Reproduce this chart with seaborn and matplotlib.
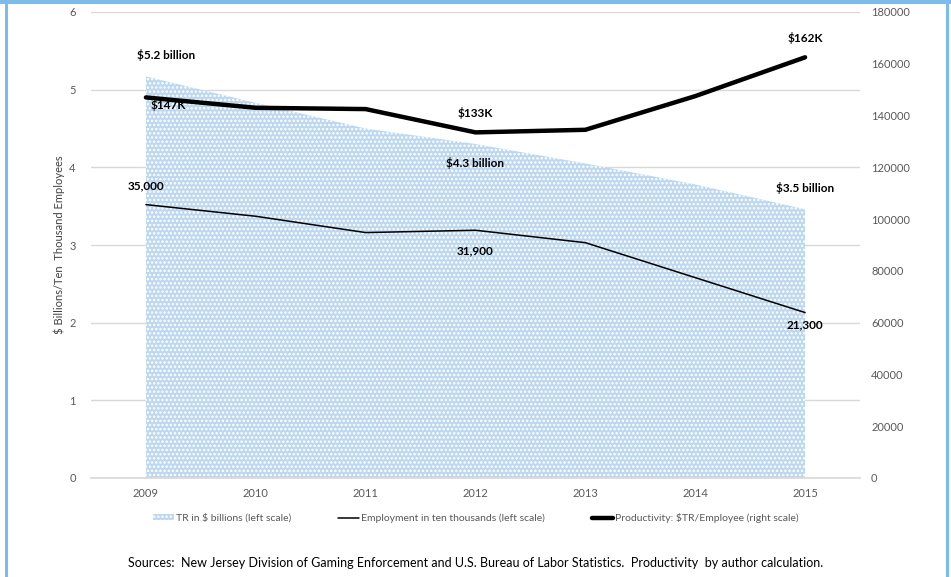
import matplotlib
matplotlib.use("Agg")
import matplotlib.pyplot as plt
import matplotlib.patches as mpatches
import matplotlib.lines as mlines
import seaborn as sns
import pandas as pd

years = ["2009", "2010", "2011", "2012", "2013", "2014", "2015"]
revenue_bn = [5.17, 4.83, 4.50, 4.30, 4.05, 3.78, 3.46]
employment_10k = [3.52, 3.37, 3.16, 3.19, 3.03, 2.58, 2.13]
productivity = [147000, 143000, 142500, 133500, 134500, 147500, 162500]

rev_labels = ["$5.2 billion", "", "", "$4.3 billion", "", "", "$3.5 billion"]
emp_labels = ["35,000", "", "", "31,900", "", "", "21,300"]
prod_labels = ["$147K", "", "", "$133K", "", "", "$162K"]

left_ticks = [0, 1, 2, 3, 4, 5, 6]
right_ticks = list(range(0, 180001, 20000))

sns.set_theme(style="white")
FONT = ["Lato", "DejaVu Sans"]
plt.rcParams["font.family"] = FONT
plt.rcParams["hatch.linewidth"] = 1.2

df = pd.DataFrame({"idx": range(len(years)), "year": years, "rev": revenue_bn,
                   "emp": employment_10k, "prod": productivity})

fig = plt.figure(figsize=(9.51, 5.77), dpi=100)
fig.patch.set_facecolor("white")
ax = fig.add_axes([91/951, 1-478/577, (860-91)/951, (478-12)/577])
ax2 = ax.twinx()

fill_c = "#bdd7ee"
ax.fill_between(df["idx"], 0, df["rev"], facecolor=fill_c, edgecolor="white",
                hatch="....", linewidth=0, zorder=1)
sns.lineplot(data=df, x="idx", y="emp", ax=ax, color="black", linewidth=1.1, zorder=3)
sns.lineplot(data=df, x="idx", y="prod", ax=ax2, color="black", linewidth=3.2, zorder=3)

ax.set_xlim(-0.5, len(years) - 0.5)
ax.set_ylim(0, 6)
ax2.set_ylim(0, 180000)
ax.set_xticks(range(len(years)))
ax.set_xticklabels(years)
ax.set_yticks(left_ticks)
ax2.set_yticks(right_ticks)
ax2.set_yticklabels([str(t) for t in right_ticks])
ax.grid(axis="y", color="#d9d9d9", linewidth=1)
ax.set_axisbelow(True)
for a in (ax, ax2):
    for s in a.spines.values():
        s.set_visible(False)
    a.set_xlabel("")
    a.set_ylabel("")
ax.spines["bottom"].set_visible(True)
ax.spines["bottom"].set_color("#d9d9d9")
ax.tick_params(axis="x", length=0, pad=7, labelsize=8, labelcolor="#595959")
ax.tick_params(axis="y", length=0, pad=11, labelsize=8, labelcolor="#595959")
ax2.tick_params(axis="y", length=0, pad=8, labelsize=8, labelcolor="#595959")
ax.set_ylabel("$ Billions/Ten  Thousand Employees", fontsize=8, color="#404040", labelpad=3)

lab_kw = dict(fontsize=8.5, fontweight="bold", color="black", zorder=5)
rev_off = {0: (0.18, 0.27), 3: (0, -0.25), 6: (0, 0.28)}
for i, t in enumerate(rev_labels):
    if t:
        dx, dy = rev_off[i]
        ax.text(i + dx, revenue_bn[i] + dy, t, ha="center", va="center", **lab_kw)
emp_off = {0: (0.0, 0.24), 3: (0.0, -0.27), 6: (0.0, -0.16)}
for i, t in enumerate(emp_labels):
    if t:
        dx, dy = emp_off[i]
        ax.text(i + dx, employment_10k[i] + dy, t, ha="center", va="center", **lab_kw)
prod_off = {0: (0.2, -2800), 3: (0.0, 7300), 6: (0.0, 7500)}
for i, t in enumerate(prod_labels):
    if t:
        dx, dy = prod_off[i]
        ax2.text(i + dx, productivity[i] + dy, t, ha="center", va="center", **lab_kw)

# legend
h1 = mpatches.Patch(facecolor=fill_c, edgecolor="white", hatch="....", linewidth=0,
                    label="TR in $ billions (left scale)")
h2 = mlines.Line2D([], [], color="black", linewidth=1.1, label="Employment in ten thousands (left scale)")
h3 = mlines.Line2D([], [], color="black", linewidth=3.2, label="Productivity: $TR/Employee (right scale)")
leg = fig.legend(handles=[h1, h2, h3], loc="center", bbox_to_anchor=(476/951, 1-518/577),
                 ncol=3, frameon=False, fontsize=7.5, handlelength=2.0, handleheight=0.5,
                 handletextpad=0.2, columnspacing=4.5)
for t in leg.get_texts():
    t.set_color("#595959")

fig.text(476/951, 1-563/577,
         "Sources:  New Jersey Division of Gaming Enforcement and U.S. Bureau of Labor Statistics.  Productivity  by author calculation.",
         ha="center", va="center", fontsize=9, color="black")

# frame
border_c = "#7dbbe8"
fig.add_artist(mpatches.Rectangle((0, 1-4/577), 1, 4/577, transform=fig.transFigure,
                                  facecolor=border_c, edgecolor="none"))
fig.add_artist(mpatches.Rectangle((5/951, 0), 3/951, 1, transform=fig.transFigure,
                                  facecolor=border_c, edgecolor="none"))
fig.add_artist(mpatches.Rectangle((946/951, 0), 3/951, 1, transform=fig.transFigure,
                                  facecolor=border_c, edgecolor="none"))

fig.savefig("out.png", dpi=100, facecolor="white")
